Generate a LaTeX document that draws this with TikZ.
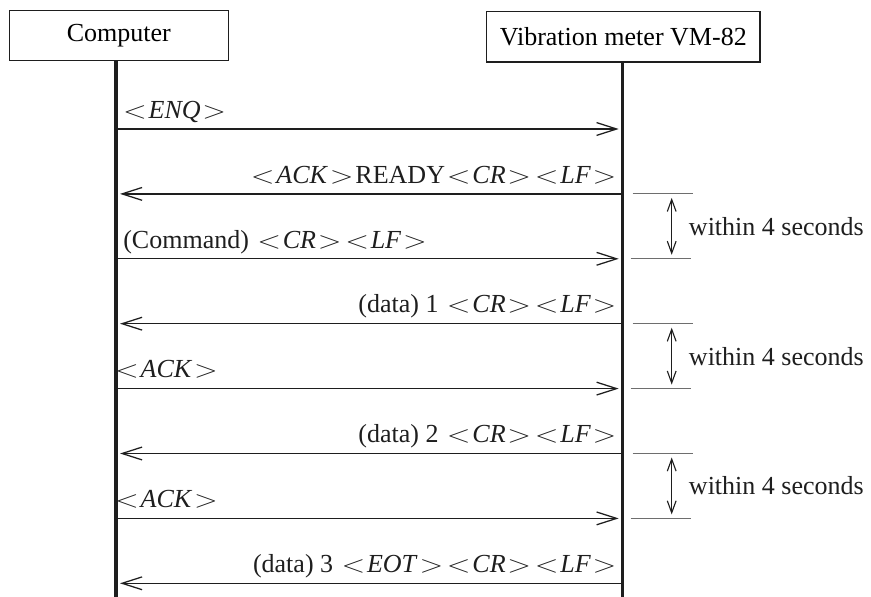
\documentclass[tikz,border=0pt]{standalone}
\usepackage{fontspec}
\usepackage{graphicx}
\setmainfont{Liberation Serif}
\usetikzlibrary{arrows.meta,positioning,calc}
\definecolor{ink}{RGB}{30,30,30}
\definecolor{tk}{RGB}{110,110,110}
\newcommand\ltg{\hspace{1.3pt}\scalebox{1.28}[1]{$<$}\hspace{1.3pt}}
\newcommand\gtg{\hspace{1.3pt}\scalebox{1.28}[1]{$>$}\hspace{1.3pt}}
\newcommand\ctrl[1]{\ltg\textit{#1}\gtg}

\begin{document}
\begin{tikzpicture}[x=0.025cm,y=-0.025cm,
    actor/.style={rectangle,draw=ink,line width=0.8pt,inner sep=0pt,minimum height=1.26cm,font=\fontsize{18.5}{22}\selectfont},
    lbl/.style={inner sep=0pt,font=\fontsize{18.5}{22}\selectfont,text=ink},
    life/.style={draw=ink,line width=2.2pt},
    msg/.style={draw=ink,line width=0.9pt,shorten >=0.1cm,-{Straight Barb[length=0.5cm,width=0.32cm]}},
    tick/.style={draw=tk,line width=0.8pt},
    span/.style={draw=ink,line width=0.8pt,{Straight Barb[length=0.3cm,width=0.22cm]}-{Straight Barb[length=0.3cm,width=0.22cm]}},
]
\useasboundingbox (0,0) rectangle (871,597);

\node[actor,minimum width=5.48cm] (pc) at (118.8,35.3) {Computer};
\node[actor,minimum width=6.83cm] (vm) at (623.3,36.8) {Vibration meter VM-82};

\coordinate (pcbot) at (116,597);
\coordinate (vmbot) at (622.7,597);
\draw[life] (pc.south -| pcbot) -- (pcbot);
\draw[life] (vm.south -| vmbot) -- (vmbot);

% message levels on both lifelines
\foreach \y [count=\i] in {129,193.9,258.8,323.7,388.6,453.5,518.4,583.3} {
  \coordinate (L\i) at (116,\y);
  \coordinate (R\i) at (622.7,\y);
}

\draw[msg] (L1) -- (R1);
\draw[msg] (R2) -- (L2);
\draw[msg] (L3) -- (R3);
\draw[msg] (R4) -- (L4);
\draw[msg] (L5) -- (R5);
\draw[msg] (R6) -- (L6);
\draw[msg] (L7) -- (R7);
\draw[msg] (R8) -- (L8);

\node[lbl,anchor=base west] (t1) at ($(L1)+(5,-10.7)$) {\ctrl{ENQ}};
\node[lbl,anchor=base east] (t2) at ($(R2)+(-6,-10.7)$) {\ctrl{ACK}READY\ctrl{CR}\ctrl{LF}};
\node[lbl,anchor=base west] (t3) at ($(L3)+(7,-10.7)$) {(Command) \ctrl{CR}\ctrl{LF}};
\node[lbl,anchor=base east] (t4) at ($(R4)+(-6,-10.7)$) {(data) 1 \ctrl{CR}\ctrl{LF}};
\node[lbl,anchor=base west] (t5) at ($(L5)+(-3,-10.7)$) {\ctrl{ACK}};
\node[lbl,anchor=base east] (t6) at ($(R6)+(-6,-10.7)$) {(data) 2 \ctrl{CR}\ctrl{LF}};
\node[lbl,anchor=base west] (t7) at ($(L7)+(-3,-10.7)$) {\ctrl{ACK}};
\node[lbl,anchor=base east] (t8) at ($(R8)+(-6,-10.7)$) {(data) 3 \ctrl{EOT}\ctrl{CR}\ctrl{LF}};

% time limits
\foreach \a/\b in {2/3,4/5,6/7} {
  \draw[tick] ($(R\a)+(10,0)$) -- ($(R\a)+(70,0)$);
  \draw[tick] ($(R\b)+(8,0)$) -- ($(R\b)+(68,0)$);
  \draw[span] ($(R\a)+(49,4)$) -- ($(R\b)+(49,-4)$);
  \node[lbl,anchor=west] (w\a) at ($(R\a)!0.5!(R\b)+(66,0)$) {within 4 seconds};
}
\end{tikzpicture}
\end{document}
